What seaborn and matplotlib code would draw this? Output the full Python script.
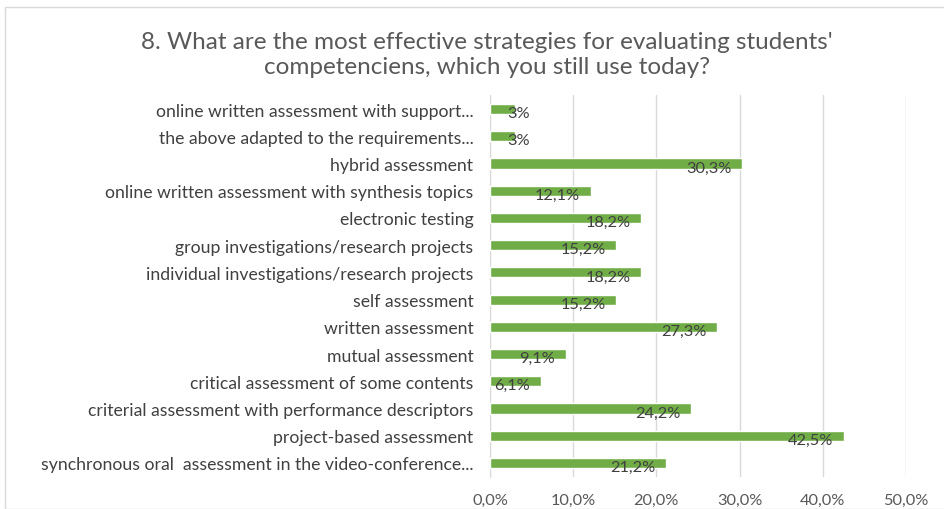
import matplotlib
matplotlib.use("Agg")
import matplotlib.pyplot as plt
import seaborn as sns
import pandas as pd
from matplotlib.patches import Rectangle

# data (percent), top to bottom
strategies = [
    "online written assessment with support...",
    "the above adapted to the requirements...",
    "hybrid assessment",
    "online written assessment with synthesis topics",
    "electronic testing",
    "group investigations/research projects",
    "individual investigations/research projects",
    "self assessment",
    "written assessment",
    "mutual assessment",
    "critical assessment of some contents",
    "criterial assessment with performance descriptors",
    "project-based assessment",
    "synchronous oral  assessment in the video-conference...",
]
shares = [3, 3, 30.3, 12.1, 18.2, 15.2, 18.2, 15.2, 27.3, 9.1, 6.1, 24.2, 42.5, 21.2]
value_labels = ["3%", "3%", "30,3%", "12,1%", "18,2%", "15,2%", "18,2%", "15,2%",
                "27,3%", "9,1%", "6,1%", "24,2%", "42,5%", "21,2%"]
x_ticks = [0, 10, 20, 30, 40, 50]
x_tick_labels = ["0,0%", "10,0%", "20,0%", "30,0%", "40,0%", "50,0%"]

df = pd.DataFrame({"strategy": strategies, "share": shares})

sns.set_style("white")
plt.rcParams["font.family"] = ["Lato", "DejaVu Sans"]

fig = plt.figure(figsize=(9.45, 5.1), dpi=100)
ax = fig.add_axes([490 / 945, 1 - 477.6 / 510, 416 / 945, (477.6 - 96.4) / 510])

sns.barplot(data=df, x="share", y="strategy", color="#70ad47", saturation=1,
            width=0.37, ax=ax, zorder=3)

ax.set_xlim(0, 50)
ax.set_ylim(len(strategies) - 0.5, -0.5)
ax.set_xticks(x_ticks)
ax.set_xticklabels(x_tick_labels)
ax.set_xlabel("")
ax.set_ylabel("")
ax.grid(axis="x", color="#d9d9d9", linewidth=1, zorder=0)
for s in ["top", "right", "bottom"]:
    ax.spines[s].set_visible(False)
ax.spines["left"].set_color("#d9d9d9")
ax.tick_params(axis="both", length=0, colors="#595959")
ax.tick_params(axis="x", labelsize=11.8, pad=12)
ax.tick_params(axis="y", labelsize=12.7, pad=12, labelcolor="#404040")

for i, (v, lab) in enumerate(zip(shares, value_labels)):
    if v < 5:
        ax.text(v + 0.4, i + 0.15, lab, ha="center", va="center", fontsize=11.8, color="#404040", zorder=4)
    else:
        ax.text(v - 1.3, i + 0.15, lab, ha="right", va="center", fontsize=11.8, color="#404040", zorder=4)

fig.text(0.515, 0.892, "8. What are the most effective strategies for evaluating students'\ncompetenciens, which you still use today?",
         ha="center", va="center", fontsize=17.5, color="#595959", linespacing=1.25)

fig.patches.append(Rectangle((5 / 945, 0), 1, 1 - 8 / 510, transform=fig.transFigure,
                             fill=False, edgecolor="#d9d9d9", linewidth=1))

fig.savefig("out.png", dpi=100)
